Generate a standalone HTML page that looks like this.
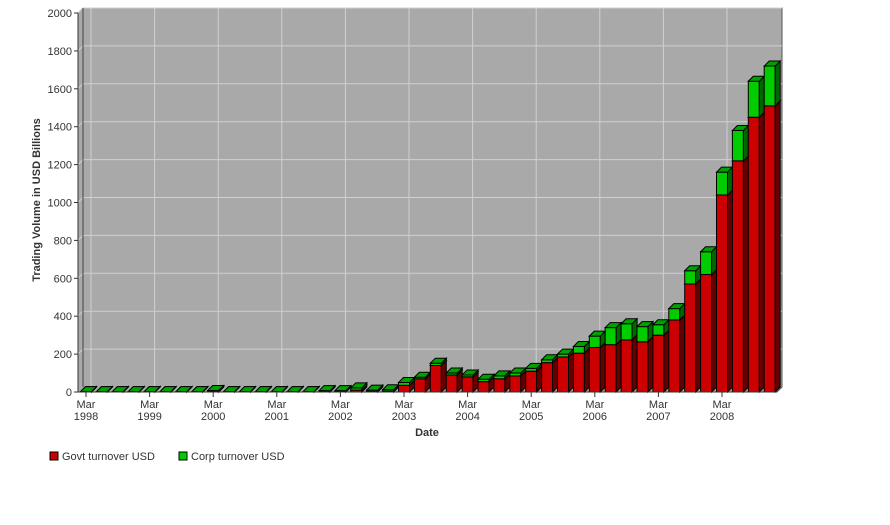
<!DOCTYPE html>
<html><head><meta charset="utf-8"><style>
body{margin:0;background:#fff;font-family:"Liberation Sans",sans-serif}
svg text{font-family:"Liberation Sans",sans-serif;font-size:11px;fill:#333}
</style></head><body>
<svg id="c" width="890" height="520" xmlns="http://www.w3.org/2000/svg">
<polygon points="78,392 78,13 83,8 782,8 782,387 777,392" fill="#a9a9a9" stroke="#555" stroke-width="1"/>
<g id="grid"></g>
<line x1="83" y1="8" x2="83" y2="387" stroke="#444"/>
<g id="bars"></g>
<line x1="78" y1="13" x2="78" y2="392" stroke="#333"/>
<line x1="78" y1="392" x2="777" y2="392" stroke="#333"/>
<g id="axes"></g>
<text x="40" y="200" transform="rotate(-90 40 200)" text-anchor="middle" font-weight="bold" style="font-size:11px">Trading Volume in USD Billions</text>
<text x="427" y="436" text-anchor="middle" font-weight="bold">Date</text>
<g><rect x="50" y="452" width="8" height="8" fill="#cc0000" stroke="#000"/><text x="62" y="460">Govt turnover USD</text></g>
<g><rect x="179" y="452" width="8" height="8" fill="#00cc00" stroke="#000"/><text x="191" y="460">Corp turnover USD</text></g>
</svg>
<script>
const govt=[1,1,1,1,1,1,1,1,3,1,1,1,1,1,1,2,3,10,4,4,35,70,140,90,80,55,70,85,110,155,185,205,235,250,275,265,300,380,570,620,1040,1220,1450,1510];
const corp=[1,1,1,1,1,1,1,1,5,1,1,1,1,1,1,5,4,12,6,8,15,8,12,10,10,12,15,15,15,15,15,35,60,90,85,80,55,60,70,120,120,160,190,210];
const yTicks=[0,200,400,600,800,1000,1200,1400,1600,1800,2000];
const xYears=["1998","1999","2000","2001","2002","2003","2004","2005","2006","2007","2008"];
const NS="http://www.w3.org/2000/svg";
const yS=v=>392-v*0.1895, xS=i=>86+i*15.9, dx=5, dy=-5, bw=11;
function mk(tag,attrs,parent){const e=document.createElementNS(NS,tag);for(const k in attrs)e.setAttribute(k,attrs[k]);document.getElementById(parent).appendChild(e);return e;}
yTicks.forEach(v=>{const y=yS(v);
 if(v>0){const g=mk('polyline',{points:`78,${y} 83,${y+dy} 782,${y+dy}`,fill:'none',stroke:'#d0d0d0'},'grid');
 
 }
 const t=mk('line',{x1:74,y1:y,x2:78,y2:y,stroke:'#333'},'axes');
 
 
 const l=mk('text',{x:72,y:y+4,'text-anchor':'end'},'axes');l.textContent=v;
 
 
});
xYears.forEach((yr,k)=>{const x=xS(k*4);
 const g=mk('line',{x1:x+dx,y1:8,x2:x+dx,y2:387,stroke:'#d0d0d0'},'grid');
 
 
 const t=mk('line',{x1:x,y1:392,x2:x,y2:397,stroke:'#333'},'axes');
 
 
 const a=mk('text',{x:x,y:408,'text-anchor':'middle'},'axes');a.textContent='Mar';
 
 
 const b=mk('text',{x:x,y:420,'text-anchor':'middle'},'axes');b.textContent=yr;
 
 
});
function box(x,y0,y1,front,top,side,name){
 const r=mk('rect',{x:x,y:y1,width:bw,height:Math.max(0,y0-y1),fill:front,stroke:'#000','stroke-width':1},'bars');
 
 
 const s=mk('polygon',{points:`${x+bw},${y1} ${x+bw+dx},${y1+dy} ${x+bw+dx},${y0+dy} ${x+bw},${y0}`,fill:side,stroke:'#000','stroke-width':1},'bars');
 
 
 const t=mk('polygon',{points:`${x},${y1} ${x+dx},${y1+dy} ${x+bw+dx},${y1+dy} ${x+bw},${y1}`,fill:top,stroke:'#000','stroke-width':1},'bars');
 
 
}
govt.forEach((g,i)=>{const x=xS(i)-bw/2;
 box(x,yS(0),yS(g),'#cc0000','#990000','#660000','bar-govt');
 box(x,yS(g),yS(g+corp[i]),'#00cc00','#00a000','#006600','bar-corp');
});
</script>
</body></html>
